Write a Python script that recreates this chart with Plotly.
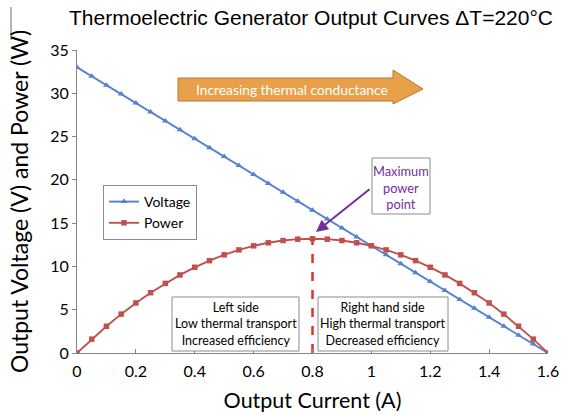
import plotly.graph_objects as go

# ---- data ----
current = [0.0, 0.05, 0.1, 0.15, 0.2, 0.25, 0.3, 0.35, 0.4, 0.45, 0.5, 0.55, 0.6, 0.65,
           0.7, 0.75, 0.8, 0.85, 0.9, 0.95, 1.0, 1.05, 1.1, 1.15, 1.2, 1.25, 1.3, 1.35,
           1.4, 1.45, 1.5, 1.55, 1.6]
voltage = [33.0, 31.97, 30.94, 29.91, 28.88, 27.84, 26.81, 25.78, 24.75, 23.72, 22.69,
           21.66, 20.63, 19.59, 18.56, 17.53, 16.5, 15.47, 14.44, 13.41, 12.38, 11.34,
           10.31, 9.28, 8.25, 7.22, 6.19, 5.16, 4.13, 3.09, 2.06, 1.03, 0.0]
power = [0.0, 1.6, 3.09, 4.49, 5.78, 6.96, 8.04, 9.02, 9.9, 10.67, 11.34, 11.91, 12.38,
         12.73, 12.99, 13.15, 13.2, 13.15, 12.99, 12.73, 12.38, 11.91, 11.34, 10.67, 9.9,
         9.02, 8.04, 6.96, 5.78, 4.49, 3.09, 1.6, 0.0]
x_ticks = [0, 0.2, 0.4, 0.6, 0.8, 1.0, 1.2, 1.4, 1.6]
x_tick_labels = ["0", "0.2", "0.4", "0.6", "0.8", "1", "1.2", "1.4", "1.6"]
y_ticks = [0, 5, 10, 15, 20, 25, 30, 35]

W, H = 563, 415
L, R, T, B = 77, 15, 50, 62
PW, PH = W - L - R, H - T - B


def px(xp):
    return (xp - L) / PW


def py(yp):
    return (H - B - yp) / PH


BLUE = "#5581CF"
RED = "#C0504D"
FONT = "Lato, 'Open Sans', sans-serif"

fig = go.Figure()

imax = max(range(len(power)), key=lambda i: power[i])
fig.add_trace(go.Scatter(
    x=[current[imax], current[imax]], y=[0, power[imax]], mode="lines",
    line=dict(color="#E0312B", width=2.5, dash="dash"), showlegend=False, hoverinfo="skip"))

fig.add_trace(go.Scatter(
    x=current, y=voltage, name="Voltage", mode="lines+markers",
    line=dict(color=BLUE, width=1.9),
    marker=dict(symbol="triangle-up", size=6, color=BLUE)))
fig.add_trace(go.Scatter(
    x=current, y=power, name="Power", mode="lines+markers",
    line=dict(color=RED, width=1.9),
    marker=dict(symbol="square", size=5.5, color=RED)))

shapes = []
annotations = []

# orange arrow
ax0, ax1, ax2 = px(178), px(393), px(423)
by0, by1 = py(101), py(78)
hy0, hy1, ty = py(104), py(70), py(89)
shapes.append(dict(
    type="path", xref="paper", yref="paper",
    path=(f"M {ax0},{by0} L {ax1},{by0} L {ax1},{hy0} L {ax2},{ty} L {ax1},{hy1} "
          f"L {ax1},{by1} L {ax0},{by1} Z"),
    fillcolor="#E8A04A", line=dict(color="#B9772E", width=1)))


def label(xp, yp, text, size, color):
    annotations.append(dict(
        xref="paper", yref="paper", x=px(xp), y=py(yp), xanchor="center", yanchor="middle",
        text=text, showarrow=False, font=dict(family=FONT, size=size, color=color)))


label(292, 89, "Increasing thermal conductance", 13.8, "white")

# text boxes
for (x0, x1, y0, y1) in [(372, 430, 158, 214), (172, 299, 297, 351), (318, 448, 297, 351)]:
    shapes.append(dict(type="rect", xref="paper", yref="paper", x0=px(x0), x1=px(x1),
                       y0=py(y1), y1=py(y0), fillcolor="white",
                       line=dict(color="#8C8C8C", width=1), layer="above"))

label(401, 187, "Maximum<br>power<br>point", 12.8, "#7030A0")
label(235.5, 324, "Left side<br>Low thermal transport<br>Increased efficiency", 12.5, "black")
label(383, 324, "Right hand side<br>High thermal transport<br>Decreased efficiency", 12.5, "black")

# purple arrow to the max power point
annotations.append(dict(
    xref="paper", yref="paper", x=px(316), y=py(232), ax=371 - 316, ay=188 - 232,
    axref="pixel", ayref="pixel", text="", showarrow=True, arrowhead=2, arrowsize=1.2,
    arrowwidth=2, arrowcolor="#7030A0"))

# small line at the top left edge
shapes.append(dict(type="line", xref="paper", yref="paper", x0=px(11), x1=px(11),
                   y0=py(40), y1=py(7), line=dict(color="#707070", width=1)))

fig.update_layout(
    width=W, height=H,
    margin=dict(l=L, r=R, t=T, b=B, autoexpand=False),
    paper_bgcolor="white", plot_bgcolor="white",
    title=dict(text="Thermoelectric Generator Output Curves ΔT=220°C",
               x=311 / W, xanchor="center", y=1 - 18 / H, yanchor="middle",
               font=dict(family="'Liberation Sans', Arial, sans-serif", size=21, color="black")),
    font=dict(family=FONT, color="black"),
    showlegend=True,
    legend=dict(x=px(103), y=py(185), xanchor="left", yanchor="top",
                bgcolor="white", bordercolor="#8C8C8C", borderwidth=1,
                font=dict(family=FONT, size=14), itemwidth=30, tracegroupgap=0),
    shapes=shapes, annotations=annotations,
)

fig.update_xaxes(range=[0, 1.6], tickvals=x_ticks, ticktext=x_tick_labels, automargin=False,
                 showgrid=False, zeroline=False, showline=True, linecolor="#868686",
                 ticks="inside", ticklen=4, tickcolor="#868686", ticklabelstandoff=4,
                 tickfont=dict(family=FONT, size=16),
                 title=dict(text="Output Current (A)", font=dict(family=FONT, size=21.5), standoff=13))
fig.update_yaxes(range=[0, 35], tickvals=y_ticks, automargin=False,
                 showgrid=False, zeroline=False, showline=True, linecolor="#868686",
                 ticks="outside", ticklen=4, tickcolor="#868686",
                 tickfont=dict(family=FONT, size=16),
                 title=dict(text="Output Voltage (V) and Power (W)",
                            font=dict(family=FONT, size=23), standoff=15))

fig.write_html("out.html", config={"displayModeBar": False},
               post_script="document.body.style.margin='0';")
